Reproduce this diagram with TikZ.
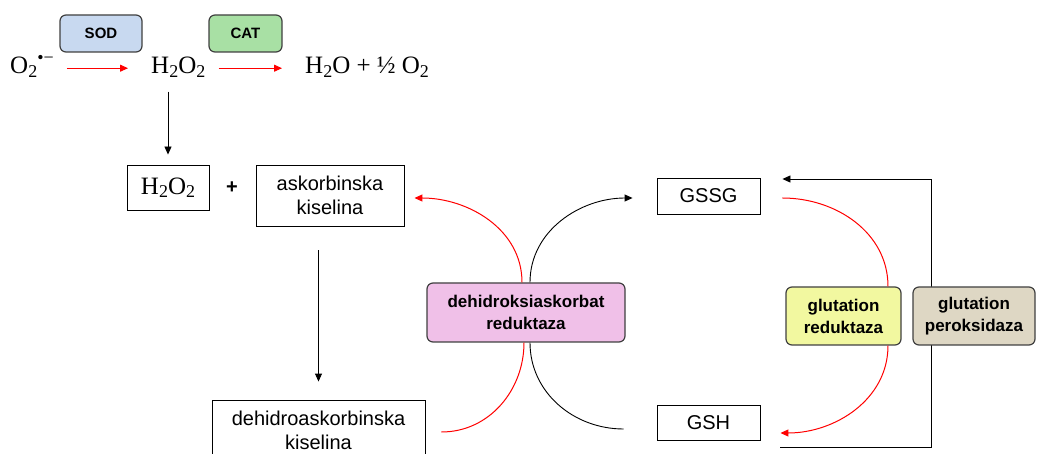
\documentclass[tikz,border=0pt]{standalone}
\usepackage{fontspec}
\setmainfont{Liberation Serif}
\setsansfont{Liberation Sans}
\usetikzlibrary{arrows.meta}

\definecolor{sodblue}{RGB}{200,217,240}
\definecolor{catgreen}{RGB}{168,224,164}
\definecolor{dhrpink}{RGB}{240,192,232}
\definecolor{gryellow}{RGB}{242,248,160}
\definecolor{gptan}{RGB}{222,215,196}

\newcommand{\chsub}[1]{\raisebox{-0.3ex}{\fontsize{18}{18}\selectfont #1}}
\newcommand{\chsup}[1]{\raisebox{0.95ex}{\fontsize{18}{18}\selectfont #1}}

\tikzset{
	enz/.style={draw=black!75,line width=1.2pt,rounded corners=6pt,align=center,inner sep=0pt,
		font=\sffamily\bfseries\fontsize{17}{22}\selectfont},
	plainbox/.style={draw,line width=0.9pt,align=center,inner sep=0pt,
		font=\sffamily\fontsize{20}{24}\selectfont},
	chem/.style={inner sep=0pt,font=\rmfamily\fontsize{25}{29}\selectfont},
	rarr/.style={red,line width=1pt,-{Triangle[length=8pt,width=7pt]}},
	barr/.style={black,line width=0.9pt,-{Triangle[length=8pt,width=7pt]}},
	rline/.style={red,line width=1pt},
	bline/.style={black,line width=0.9pt},
}

\begin{document}
\begin{tikzpicture}[x=1pt,y=-1pt]
	\useasboundingbox (0,0) rectangle (1039,454);
	% top reactions
	\node[enz,fill=sodblue,minimum width=82pt,minimum height=37pt,font=\sffamily\bfseries\fontsize{15}{18}\selectfont] (sod) at (101,33.5) {SOD};
	\node[enz,fill=catgreen,minimum width=73pt,minimum height=37pt,font=\sffamily\bfseries\fontsize{15}{18}\selectfont] (cat) at (245.5,33.5) {CAT};
	\node[chem,anchor=base west] (o2) at (10,74) {O\chsub{2}\chsup{•−}};
	\node[chem,anchor=base west] (h2o2a) at (151,74) {H\chsub{2}O\chsub{2}};
	\node[chem,anchor=base west] (h2o) at (305,74) {H\chsub{2}O + ½ O\chsub{2}};
	\draw[rarr] ([xshift=13pt,yshift=3.5pt]o2.mid east) -- ([xshift=-23pt,yshift=3.5pt]h2o2a.mid west);
	\draw[rarr] ([xshift=13pt,yshift=3.5pt]h2o2a.mid east) -- ([xshift=-23pt,yshift=3.5pt]h2o.mid west);
	% ascorbate
	\node[plainbox,minimum width=82pt,minimum height=45pt,font=\rmfamily\fontsize{25}{29}\selectfont] (h2o2b) at (168,187.5) {H\chsub{2}O\chsub{2}};
	\node[font=\sffamily\bfseries\fontsize{20}{24}\selectfont] (plus) at (232,188) {+};
	\node[plainbox,minimum width=148pt,minimum height=61pt] (ak) at (330,195.5) {askorbinska\\kiselina};
	\node[plainbox,minimum width=213pt,minimum height=60pt] (dha) at (318.5,430) {dehidroaskorbinska\\kiselina};
	\draw[barr,shorten <=14pt,shorten >=10pt] (h2o2b.north |- h2o2a.south) -- (h2o2b.north);
	\draw[barr,shorten <=24pt,shorten >=18pt] (dha.north |- ak.south) -- (dha.north);
	% glutathione
	\node[plainbox,minimum width=103pt,minimum height=36pt] (gssg) at (708.5,196) {GSSG};
	\node[plainbox,minimum width=103pt,minimum height=35pt] (gsh) at (708.5,422.5) {GSH};
	\node[enz,fill=dhrpink,minimum width=198pt,minimum height=59pt] (dr) at (526,312.5) {dehidroksiaskorbat\\reduktaza};
	\node[enz,fill=gryellow,minimum width=115pt,minimum height=58pt] (gr) at (843.5,316) {glutation\\reduktaza};
	\coordinate (gpbot) at (931,447);
	\coordinate (gptop) at (931,179);
	\draw[barr] ([xshift=20pt,yshift=-24.5pt]gsh.east) -- (gpbot) -- (gptop) -- ([xshift=22pt,yshift=17pt]gssg.east);
	\node[enz,fill=gptan,minimum width=122pt,minimum height=58pt] (gp) at (974,316) {glutation\\peroksidaza};
	% curved arrows
	\draw[rarr] ([xshift=-4pt]dr.north) to[out=90,in=0] ([xshift=10pt,yshift=-2.5pt]ak.east);
	\draw[barr] ([xshift=4pt]dr.north) to[out=90,in=180] ([xshift=-24pt,yshift=-2pt]gssg.west);
	\draw[rline] ([xshift=-2pt]dr.south) to[out=270,in=0] ([xshift=16pt,yshift=-2pt]dha.east);
	\draw[bline] ([xshift=4pt]dr.south) to[out=270,in=180] ([xshift=-33pt,yshift=-6.5pt]gsh.west);
	\draw[rline] ([xshift=22pt,yshift=-2pt]gssg.east) to[out=0,in=90] ([xshift=44.5pt]gr.north);
	\draw[rarr] ([xshift=44.5pt]gr.south) to[out=270,in=0] ([xshift=20pt,yshift=-10.5pt]gsh.east);
\end{tikzpicture}
\end{document}
